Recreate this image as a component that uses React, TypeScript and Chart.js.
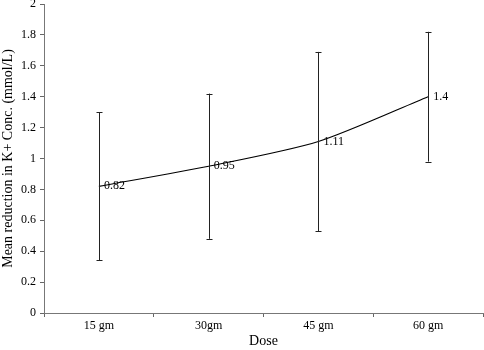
import React, { useEffect, useRef } from "react";
import { Chart, registerables } from "chart.js";

Chart.register(...registerables);

const categories = ["15 gm", "30gm", "45 gm", "60 gm"];
const meanValues = [0.82, 0.95, 1.11, 1.4];
const errorHigh = [1.3, 1.42, 1.69, 1.82];
const errorLow = [0.34, 0.48, 0.53, 0.98];
const yTickMin = 0;
const yTickMax = 2;
const yTickStep = 0.2;

const FONT = "'Liberation Serif', 'Times New Roman', serif";

const errorBarPlugin = {
  id: "errorBars",
  afterDatasetsDraw(chart: any) {
    const { ctx, scales } = chart;
    const x = scales.x;
    const y = scales.y;
    ctx.save();
    ctx.strokeStyle = "#222";
    ctx.lineWidth = 1;
    for (let i = 0; i < categories.length; i++) {
      const px = Math.round(x.getPixelForValue(i)) + 0.5;
      const top = y.getPixelForValue(errorHigh[i]);
      const bot = y.getPixelForValue(errorLow[i]);
      ctx.beginPath();
      ctx.moveTo(px, top);
      ctx.lineTo(px, bot);
      ctx.moveTo(px - 3, Math.round(top) + 0.5);
      ctx.lineTo(px + 3, Math.round(top) + 0.5);
      ctx.moveTo(px - 3, Math.round(bot) + 0.5);
      ctx.lineTo(px + 3, Math.round(bot) + 0.5);
      ctx.stroke();
    }
    ctx.fillStyle = "#000";
    ctx.font = `12px ${FONT}`;
    ctx.textAlign = "left";
    ctx.textBaseline = "middle";
    for (let i = 0; i < categories.length; i++) {
      const px = x.getPixelForValue(i);
      const py = y.getPixelForValue(meanValues[i]);
      ctx.fillText(String(meanValues[i]), px + 5, py);
    }
    ctx.restore();
  },
};

export default function App() {
  const ref = useRef<HTMLCanvasElement | null>(null);
  useEffect(() => {
    document.body.style.margin = "0";
    const chart = new Chart(ref.current as HTMLCanvasElement, {
      type: "line",
      data: {
        labels: categories,
        datasets: [
          {
            data: meanValues,
            borderColor: "#000",
            borderWidth: 1.2,
            pointRadius: 0,
            tension: 0.25,
            fill: false,
          },
        ],
      },
      options: {
        animation: false,
        responsive: false,
        maintainAspectRatio: false,
        layout: { padding: { top: 4, right: 1, left: 0, bottom: 0 } },
        plugins: { legend: { display: false }, tooltip: { enabled: false } },
        scales: {
          x: {
            offset: true,
            grid: {
              offset: true,
              drawOnChartArea: false,
              drawTicks: true,
              tickLength: 4,
              color: "#666",
            },
            border: { display: true, color: "#777", width: 1 },
            ticks: { color: "#000", font: { family: FONT, size: 12 }, padding: 2, maxRotation: 0 },
            title: { display: true, text: "Dose", color: "#000", font: { family: FONT, size: 14 }, padding: { top: 0, bottom: 0 } },
            afterFit(s: any) {
              s.height = 37;
            },
          },
          y: {
            min: yTickMin,
            max: yTickMax,
            grid: {
              drawOnChartArea: false,
              drawTicks: true,
              tickLength: 4,
              color: "#666",
            },
            border: { display: true, color: "#777", width: 1 },
            ticks: {
              stepSize: yTickStep,
              color: "#000",
              font: { family: FONT, size: 12 },
              padding: 4,
              callback: (v: any) => String(Math.round(Number(v) * 10) / 10),
            },
            title: {
              display: true,
              text: "Mean reduction in K+ Conc. (mmol/L)",
              color: "#000",
              font: { family: FONT, size: 14 },
              padding: { top: 0, bottom: 2 },
            },
            afterFit(s: any) {
              s.width = 44;
              s.paddingTop = 0;
              s.paddingBottom = 0;
            },
          },
        },
      },
      plugins: [errorBarPlugin],
    });
    return () => chart.destroy();
  }, []);
  return (
    <div style={{ width: 484, height: 350 }}>
      <canvas ref={ref} width={484} height={350} style={{ width: 484, height: 350, display: "block" }} />
    </div>
  );
}
